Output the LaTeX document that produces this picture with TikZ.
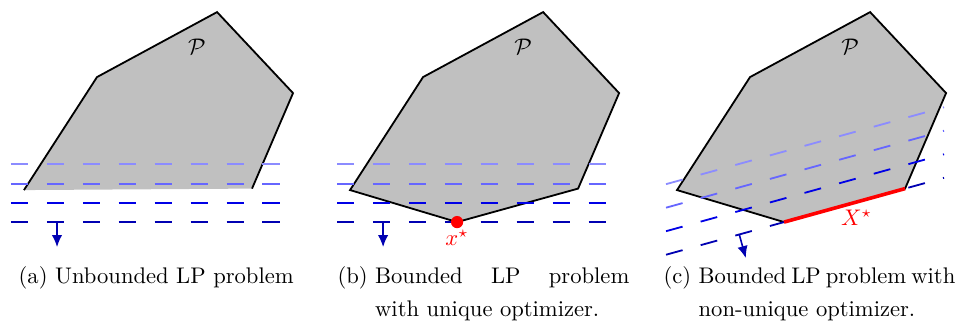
\documentclass[tikz,border=0pt]{standalone}
\usetikzlibrary{arrows.meta,positioning,calc}
\definecolor{polyfill}{HTML}{C0C0C0}
\definecolor{levA}{HTML}{8C8CFF}
\definecolor{levB}{HTML}{6666FF}
\definecolor{levC}{HTML}{0000E6}
\definecolor{levD}{HTML}{0000B2}
\definecolor{optred}{HTML}{FF0000}
\newsavebox{\caplabel}
\newcommand{\subcap}[2]{\sbox{\caplabel}{#1\ }\usebox{\caplabel}\parbox[t]{\dimexpr4.54cm-\wd\caplabel\relax}{\baselineskip=15pt #2}}
\tikzset{
  region/.style={fill=polyfill},
  border/.style={draw=black, line width=0.8pt},
  level/.style={line width=0.8pt, dash pattern=on 7.6pt off 8.3pt},
  descent/.style={-{Latex[length=5.3pt,width=4.6pt]}, draw=levD, line width=0.7pt},
  optpoint/.style={circle, fill=optred, inner sep=0pt, minimum size=0.19cm},
  optlabel/.style={text=optred},
  optedge/.style={draw=optred, line width=1.6pt},
  polylabel/.style={text=black},
  caption/.style={inner sep=0pt, text=black},
}
\begin{document}
\begin{tikzpicture}
  \useasboundingbox (0,0) rectangle (14.92,4.98);

  % polytope corners, one set per panel
  \foreach \p/\dx in {a/0, b/5.073, c/10.16} {
    \foreach \i/\x/\y in {1/0.373/2.023, 2/1.509/3.781, 3/3.377/4.792, 4/4.559/3.532, 5/3.921/2.046, 6/2.038/1.525}
      \coordinate (\p\i) at (\dx+\x,\y);
  }

  % --- (a): open at the bottom ---------------------------------------------
  \fill[region] (a1) -- (a2) -- (a3) -- (a4) -- (a5) -- cycle;
  \draw[border] (a1) -- (a2) -- (a3) -- (a4) -- (a5);

  % --- (b), (c): closed polytope -------------------------------------------
  \foreach \p in {b,c}
    \filldraw[region, border] (\p1) -- (\p2) -- (\p3) -- (\p4) -- (\p5) -- (\p6) -- cycle;

  % level sets, horizontal
  \foreach \dx in {0, 5.073} {
    \foreach \y/\c in {2.427/levA, 2.116/levB, 1.821/levC, 1.525/levD}
      \draw[level, draw=\c] (\dx+0.171,\y) -- (\dx+4.357,\y);
  }

  % level sets, tilted along the optimal edge
  \coordinate (cl) at ($(c6)!-0.975!(c5)$);
  \coordinate (cr) at ($(c6)!1.322!(c5)$);
  \foreach \k/\c in {0/levD, 1/levC, 2/levB, 3/levA}
    \draw[level, draw=\c] ([yshift=\k*0.366cm]cl) -- ([yshift=\k*0.366cm]cr);

  % descent direction
  \coordinate (sa) at (0.887,1.525);
  \coordinate (sb) at (5.073+0.887,1.525);
  \coordinate (sc) at ($(c6)!-0.37!(c5)$);
  \foreach \p in {a,b}
    \draw[descent] (s\p) -- ++(0,-0.389);
  \draw[descent] (sc) -- ($(sc)!0.38cm!-90:(c5)$);

  % optimizers
  \draw[optedge] (c6) -- (c5);
  \node[optpoint] (xopt) at (b6) {};
  \node[optlabel, below=-0.5pt of xopt, inner sep=1pt] (xoptl) {$x^\star$};
  \node[optlabel, anchor=north] (Xopt) at ($(c6)!0.6!(c5)$) {$X^\star$};

  % polytope labels
  \foreach \p/\dx in {a/0, b/5.073, c/10.16}
    \node[polylabel] (P\p) at (\dx+3.065,4.248) {$\mathcal{P}$};

  % captions
  \node[caption, anchor=base] (capa) at (2.43,0.576) {(a)\ Unbounded LP problem};
  \node[caption, anchor=base west] (capb) at (5.244,0.576) {\subcap{(b)}{Bounded LP problem\linebreak with unique optimizer.}};
  \node[caption, anchor=base west] (capc) at (10.316,0.576) {\subcap{(c)}{Bounded LP problem with\linebreak non-unique optimizer.}};
\end{tikzpicture}
\end{document}
